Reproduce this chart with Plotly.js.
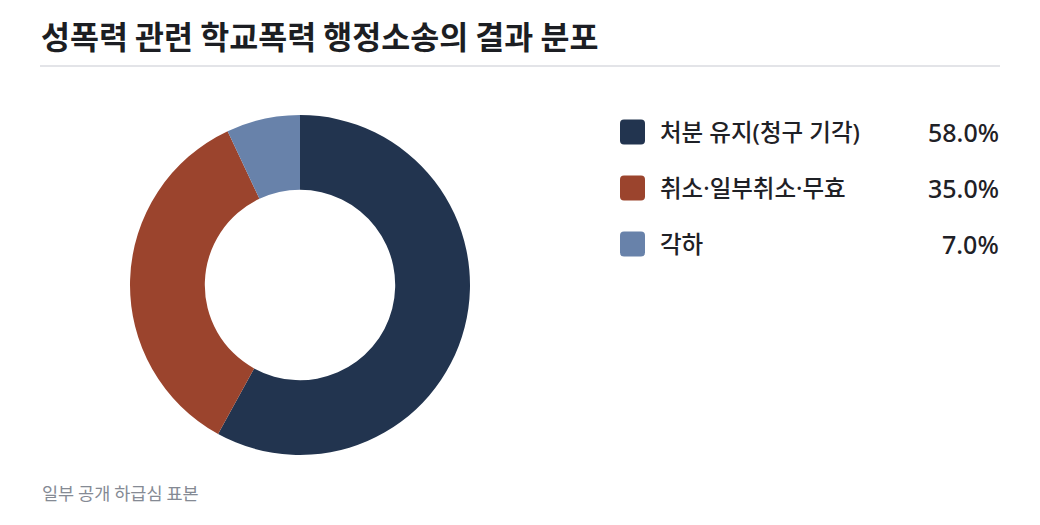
<!DOCTYPE html>
<html>
<head>
<meta charset="utf-8">
<script src="https://cdn.plot.ly/plotly-3.0.1.min.js"></script>
<style>
  html, body { margin: 0; padding: 0; background: #ffffff; }
  #chart { width: 1040px; height: 525px; }
</style>
</head>
<body>
<div id="chart"></div>
<script>
// data
var labels = ['처분 유지(청구 기각)', '취소·일부취소·무효', '각하'];
var shares = [58.0, 35.0, 7.0];
var colors = ['#22344f', '#9b442d', '#6882aa'];

var titleText = '성폭력 관련 학교폭력 행정소송의 결과 분포';
var noteText = '일부 공개 하급심 표본';

var W = 1040, H = 525;
var font = '"Noto Sans CJK KR", "Noto Sans", sans-serif';
// latin first so the middle dot and digits stay proportional
var legendFont = '"Noto Sans", "Noto Sans CJK KR", sans-serif';

// small helper: rounded square as svg path (pixel units on hidden axes)
function roundRect(x, y, w, h, r) {
    return 'M' + (x + r) + ',' + y +
        ' L' + (x + w - r) + ',' + y + ' Q' + (x + w) + ',' + y + ' ' + (x + w) + ',' + (y + r) +
        ' L' + (x + w) + ',' + (y + h - r) + ' Q' + (x + w) + ',' + (y + h) + ' ' + (x + w - r) + ',' + (y + h) +
        ' L' + (x + r) + ',' + (y + h) + ' Q' + x + ',' + (y + h) + ' ' + x + ',' + (y + h - r) +
        ' L' + x + ',' + (y + r) + ' Q' + x + ',' + y + ' ' + (x + r) + ',' + y + ' Z';
}

var pie = {
    type: 'pie',
    labels: labels,
    values: shares,
    hole: 0.56,
    sort: false,
    direction: 'clockwise',
    rotation: 0,
    textinfo: 'none',
    hoverinfo: 'skip',
    marker: {colors: colors, line: {width: 0}},
    showlegend: false,
    domain: {x: [130 / W, 470 / W], y: [1 - 455 / H, 1 - 115 / H]}
};

var shapes = [{
    type: 'line', xref: 'x', yref: 'y',
    x0: 40, x1: 1000, y0: 66, y1: 66,
    line: {color: '#e3e4e8', width: 2}
}];
var annotations = [{
    xref: 'x', yref: 'y', x: 39, y: 35, xanchor: 'left', yanchor: 'middle',
    text: '<b>' + titleText + '</b>', showarrow: false,
    font: {family: font, size: 31.5, color: '#1c1e23'}
}, {
    xref: 'x', yref: 'y', x: 40, y: 492, xanchor: 'left', yanchor: 'middle',
    text: noteText, showarrow: false,
    font: {family: font, size: 17.5, color: '#858a94'}
}];

var rowY = [132, 188, 244];
labels.forEach(function (lab, i) {
    shapes.push({
        type: 'path', xref: 'x', yref: 'y',
        path: roundRect(620, rowY[i] - 12.5, 25, 25, 4),
        fillcolor: colors[i], line: {width: 0}
    });
    annotations.push({
        xref: 'x', yref: 'y', x: 658, y: rowY[i], xanchor: 'left', yanchor: 'middle',
        text: lab, showarrow: false,
        font: {family: legendFont, size: 23.5, weight: 500, color: '#1f2126'}
    });
    annotations.push({
        xref: 'x', yref: 'y', x: 1001, y: rowY[i], xanchor: 'right', yanchor: 'middle',
        text: shares[i].toFixed(1) + '%', showarrow: false,
        font: {family: legendFont, size: 25, weight: 500, color: '#1f2126'}
    });
});

var layout = {
    width: W,
    height: H,
    margin: {l: 0, r: 0, t: 0, b: 0},
    paper_bgcolor: '#ffffff',
    plot_bgcolor: 'rgba(0,0,0,0)',
    xaxis: {range: [0, W], visible: false, fixedrange: true},
    yaxis: {range: [H, 0], visible: false, fixedrange: true},
    shapes: shapes,
    annotations: annotations,
    hovermode: false,
    showlegend: false
};

Plotly.newPlot('chart', [pie], layout, {displayModeBar: false, staticPlot: true});
</script>
</body>
</html>
